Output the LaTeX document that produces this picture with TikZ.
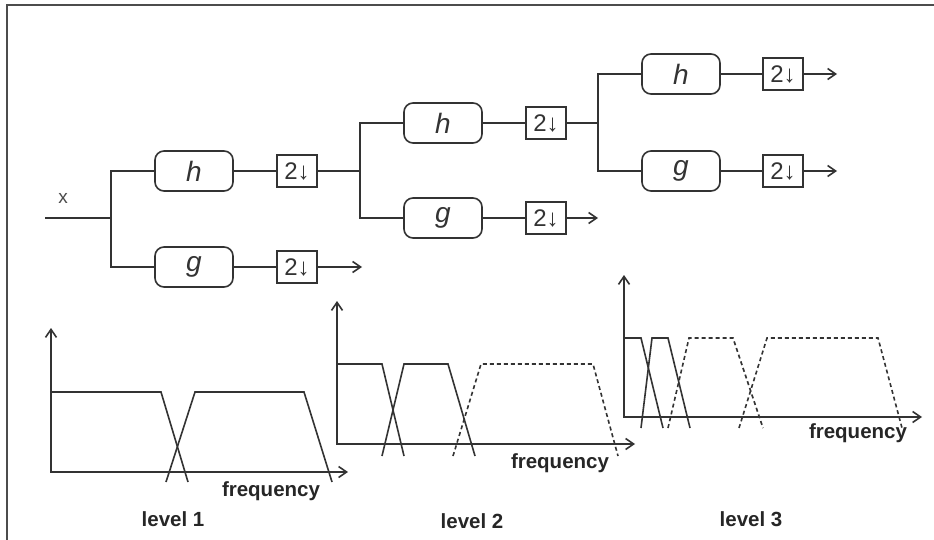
\documentclass[tikz,border=0pt]{standalone}
\usepackage{fontspec}
\setmainfont{Liberation Sans}
\usetikzlibrary{arrows.meta}
\begin{document}
\begin{tikzpicture}[x=1pt,y=-1pt, line width=1.6pt, color=black!80,
  filt/.style={draw, rounded corners=9pt, minimum width=78pt, minimum height=40pt, inner sep=0pt, font=\fontsize{28}{28}\selectfont\itshape},
  dec/.style={draw, minimum width=40pt, minimum height=32pt, inner sep=0pt, font=\fontsize{24}{24}\selectfont},
  arr/.style={-{Straight Barb[length=8pt,width=11pt]}},
  axes/.style={{Straight Barb[length=8pt,width=11pt]}-{Straight Barb[length=8pt,width=11pt]}},
  lab/.style={font=\fontsize{20.5}{20.5}\selectfont\bfseries, text=black!85, inner sep=0pt},
  dband/.style={dash pattern=on 4pt off 3pt}
]
\useasboundingbox (0,0) rectangle (934,540);
\fill[white] (0,0) rectangle (934,540);
% frame
\draw[line width=1.8pt, black!70] (7,540) -- (7,5) -- (934,5);

% level 1 tree
\node[text=black!70, font=\fontsize{19}{19}\selectfont, inner sep=0pt] (x) at (63,198) {x};
\coordinate (in) at (45,218);
\coordinate (b1) at (111,218);
\node[filt] (h1) at (194,171) {h};
\node[filt] (g1) at (194,267) {g};
\node[dec] (d1h) at (297,171) {2↓};
\node[dec] (d1g) at (297,267) {2↓};
\coordinate (e1g) at (362,267);
\draw (in) -- (b1);
\draw (h1.west) -| (b1) |- (g1.west);
\draw (h1) -- (d1h);
\draw (g1) -- (d1g);
\draw[arr] (d1g) -- (e1g);

% level 2 tree
\coordinate (b2) at (360,171);
\node[filt] (h2) at (443,123) {h};
\node[filt] (g2) at (443,218) {g};
\node[dec] (d2h) at (546,123) {2↓};
\node[dec] (d2g) at (546,218) {2↓};
\coordinate (e2g) at (598,218);
\draw (d1h) -- (b2);
\draw (h2.west) -| (b2) |- (g2.west);
\draw (h2) -- (d2h);
\draw (g2) -- (d2g);
\draw[arr] (d2g) -- (e2g);

% level 3 tree
\coordinate (b3) at (598,123);
\node[filt] (h3) at (681,74) {h};
\node[filt] (g3) at (681,171) {g};
\node[dec] (d3h) at (783,74) {2↓};
\node[dec] (d3g) at (783,171) {2↓};
\coordinate (e3h) at (837,74);
\coordinate (e3g) at (837,171);
\draw (d2h) -- (b3);
\draw (h3.west) -| (b3) |- (g3.west);
\draw (h3) -- (d3h);
\draw (g3) -- (d3g);
\draw[arr] (d3h) -- (e3h);
\draw[arr] (d3g) -- (e3g);

% plot 1
\draw[axes] (51,328) -- (51,472) -- (348,472);
\draw (51,392) -- (161,392) -- (188,482);
\draw (166,482) -- (195,392) -- (304,392) -- (332,482);
\node[lab] (f1) at (271,491) {frequency};
\node[lab] (l1) at (173,519) {level 1};

% plot 2
\draw[axes] (337,301) -- (337,444) -- (635,444);
\draw (337,364) -- (382,364) -- (404,456);
\draw (382,456) -- (404,364) -- (448,364) -- (475,456);
\draw[dband] (453,456) -- (481,364) -- (593,364) -- (618,456);
\node[lab] (f2) at (560,463) {frequency};
\node[lab] (l2) at (472,521) {level 2};

% plot 3
\draw[axes] (624,275) -- (624,417) -- (922,417);
\draw (624,338) -- (641,338) -- (663,428);
\draw (641,428) -- (652,338) -- (668,338) -- (690,428);
\draw[dband] (668,428) -- (689,338) -- (733,338) -- (763,428);
\draw[dband] (739,428) -- (767,338) -- (878,338) -- (902,428);
\node[lab] (f3) at (858,433) {frequency};
\node[lab] (l3) at (751,519) {level 3};
\end{tikzpicture}
\end{document}
